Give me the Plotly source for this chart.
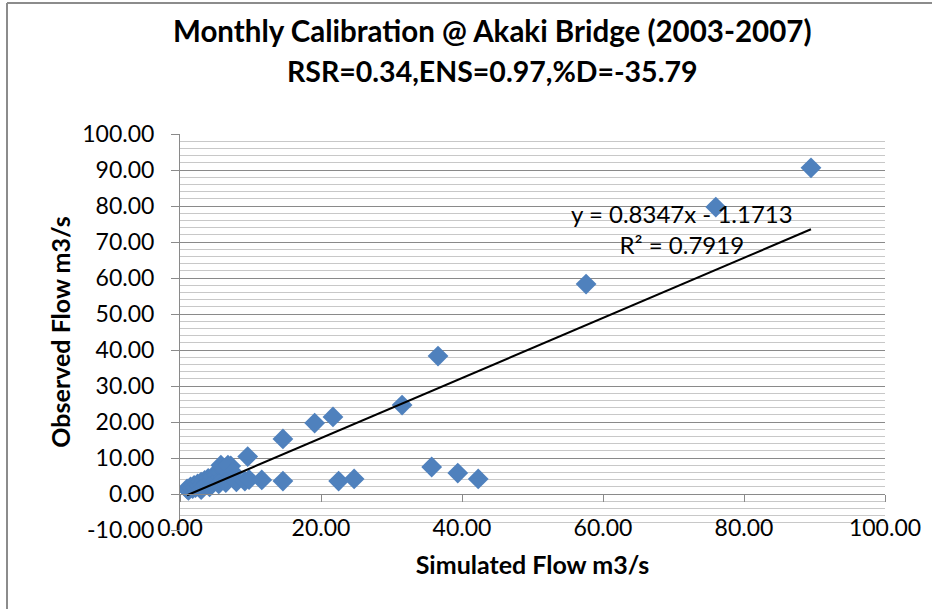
import plotly.graph_objects as go

# simulated vs observed monthly flow (m3/s)
sim_flow = [1.0, 1.2, 1.5, 1.8, 2.0, 2.2, 2.5, 2.8, 3.0, 3.2, 3.5, 3.8, 4.0, 4.3,
            4.6, 4.9, 5.2, 5.5, 5.8, 6.1, 6.4, 6.8, 7.2, 5.8, 6.8, 7.5, 3.0, 4.2,
            5.5, 6.5, 8.0, 9.2, 9.8, 11.6, 14.6, 22.5, 24.7, 9.6, 14.6, 19.1,
            21.7, 31.5, 35.7, 36.6, 39.4, 42.3, 57.6, 76.0, 89.5]
obs_flow = [1.4, 1.0, 2.0, 1.5, 2.4, 1.8, 2.8, 2.2, 3.3, 2.6, 3.8, 3.0, 4.3, 3.5,
            4.8, 3.8, 5.3, 4.2, 5.8, 4.6, 6.4, 7.0, 7.8, 8.0, 8.0, 6.0, 1.2, 2.0,
            2.8, 3.2, 3.4, 3.6, 4.0, 3.9, 3.6, 3.6, 4.2, 10.4, 15.3, 19.7, 21.4,
            24.7, 7.5, 38.3, 5.8, 4.2, 58.3, 79.7, 90.6]

# linear trendline as reported on the chart
slope = 0.8347
intercept = -1.1713
r_squared = 0.7919

title_lines = ["Monthly Calibration @ Akaki Bridge (2003-2007)",
               "RSR=0.34,ENS=0.97,%D=-35.79"]

y_ticks = list(range(-10, 101, 10))
x_ticks = list(range(0, 101, 20))

trend_x = [min(sim_flow), max(sim_flow)]
trend_y = [slope * v + intercept for v in trend_x]

font = "Lato, Arial, sans-serif"
grid_major = "#8a8a8a"
grid_minor = "#c8c8c8"

fig = go.Figure()
fig.add_trace(go.Scatter(
    x=sim_flow, y=obs_flow, mode="markers",
    marker=dict(symbol="diamond", size=16, color="#4F81BD",
                line=dict(width=0)),
    showlegend=False, hoverinfo="x+y"))
fig.add_trace(go.Scatter(
    x=trend_x, y=trend_y, mode="lines",
    line=dict(color="black", width=2), showlegend=False))

eq_text = "y = %.4fx - %.4f<br>R² = %.4f" % (slope, -intercept, r_squared)
fig.add_annotation(x=71.2, y=73.6, xref="x", yref="y", text=eq_text,
                   showarrow=False, align="center",
                   font=dict(family=font, size=24, color="black"))

# two title lines
for txt, ypix, fs in zip(title_lines, [31, 71], [29.5, 28.5]):
    fig.add_annotation(text="<b>%s</b>" % txt, xref="paper", yref="paper",
                       x=(492 - 180) / 705, y=(530 - ypix) / 396,
                       xanchor="center", yanchor="middle", showarrow=False,
                       font=dict(family=font, size=fs, color="black"))

fig.update_layout(
    width=932, height=609,
    margin=dict(l=180, r=47, t=134, b=79, autoexpand=False),
    paper_bgcolor="white", plot_bgcolor="white",
    font=dict(family=font, color="black"),
)

fig.update_xaxes(
    range=[0, 100], tickvals=x_ticks, ticktext=["%.2f" % v for v in x_ticks],
    showgrid=False, zeroline=False, showline=False, ticks="",
    automargin=False,
    tickfont=dict(family=font, size=23), ticklabelstandoff=-18,
    title=dict(text="<b>Simulated Flow m3/s</b>", standoff=16,
               font=dict(family=font, size=25)),
)
fig.update_yaxes(
    range=[-10, 100], tickvals=y_ticks, ticktext=["%.2f" % v for v in y_ticks],
    showgrid=True, gridcolor=grid_major, gridwidth=1,
    zeroline=False, showline=True, linecolor=grid_major, linewidth=1,
    ticks="outside", ticklen=8, tickcolor=grid_major, automargin=False,
    tickfont=dict(family=font, size=23), ticklabelstandoff=12,
    minor=dict(dtick=2, showgrid=True, gridcolor=grid_minor, gridwidth=1),
    title=dict(text="<b>Observed Flow m3/s</b>", standoff=4,
               font=dict(family=font, size=25)),
)

# horizontal axis line crossing at y = 0 with its tick marks
fig.update_layout(xaxis2=dict(
    overlaying="x", matches="x", anchor="free", position=10 / 110,
    range=[0, 100], tickvals=x_ticks, showgrid=False, zeroline=False,
    showline=True, linecolor=grid_major, linewidth=1,
    ticks="outside", ticklen=7, tickcolor=grid_major,
    showticklabels=False, automargin=False))
fig.add_trace(go.Scatter(x=[None], y=[None], xaxis="x2", showlegend=False))

# chart frame (left and top edges are inside the picture)
fig.add_shape(type="line", xref="paper", yref="paper",
              x0=(7 - 180) / 705, x1=(7 - 180) / 705, y0=-0.3, y1=(530 - 3) / 396,
              line=dict(color="#8c8c8c", width=2))
fig.add_shape(type="line", xref="paper", yref="paper",
              x0=(7 - 180) / 705, x1=1.2, y0=(530 - 3) / 396, y1=(530 - 3) / 396,
              line=dict(color="#8c8c8c", width=2))

fig.write_html("out.html", config={"displayModeBar": False},
               post_script="document.body.style.margin='0px';")
